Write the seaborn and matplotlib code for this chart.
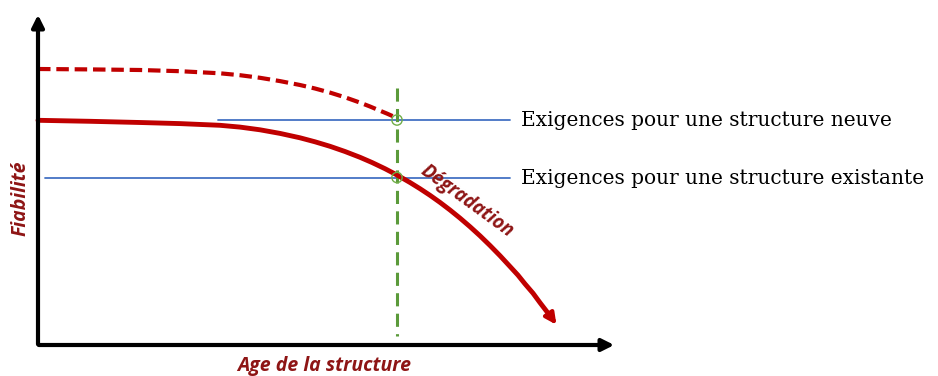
import seaborn as sns
import matplotlib.pyplot as plt
import pandas as pd

# curve points (pixel-like units, y grows downward)
age_solid = [38, 90, 140, 180, 220, 240, 260, 280, 300, 315, 330, 345, 360, 372, 385, 397,
             410, 420, 430, 440, 450, 460, 470, 480, 490, 500, 510, 518, 525, 533, 540, 546, 551]
fiab_solid = [120.3, 121.3, 122.5, 123.6, 125.3, 127.1, 129.8, 133.4, 137.8, 141.8, 146.3, 151.5, 157.3, 162.5, 168.7, 175,
              182.5, 188.7, 195.3, 202.4, 210, 218.1, 226.7, 235.8, 245.5, 255.7, 266.5, 275.2, 283.9, 293.2, 302.7, 310.5, 317]
age_dashed = [38, 90, 140, 180, 220, 240, 260, 280, 300, 315, 330, 345, 360, 370, 380, 387, 394]
fiab_dashed = [69, 69.4, 70, 71.2, 73.3, 75.2, 77.8, 81.1, 85, 88.5, 92.6, 97.3, 102.6, 106.5, 110.7, 113.6, 116.7]

req_labels = ['Exigences pour une structure neuve', 'Exigences pour une structure existante']
req_levels = [120, 177.5]
req_start = [218, 45]
req_end = 510
t_inspect = 397

sns.set_style('white')
dark_red = '#8E1515'
red = '#C00000'

fig = plt.figure(figsize=(9.38, 3.76), dpi=100)
ax = fig.add_axes([0, 0, 1, 1])
ax.set_xlim(0, 938)
ax.set_ylim(376, 0)
ax.axis('off')

# axes with arrows
ax.annotate('', xy=(617, 345), xytext=(36, 345),
            arrowprops=dict(arrowstyle='-|>', color='black', lw=3, mutation_scale=18))
ax.annotate('', xy=(38, 12), xytext=(38, 347),
            arrowprops=dict(arrowstyle='-|>', color='black', lw=3, mutation_scale=18))

# requirement lines
for lvl, x0, lab in zip(req_levels, req_start, req_labels):
    ax.plot([x0, req_end], [lvl, lvl], color='#4472C4', lw=1.3)
    ax.text(req_end + 11, lvl + 1, lab, fontsize=14.5, family='DejaVu Serif',
            va='center', ha='left', color='black')

# inspection time
ax.plot([t_inspect, t_inspect], [88, 336], color='#5B9A3A', lw=2.2, ls=(0, (4.3, 2.4)))

df_solid = pd.DataFrame({'age': age_solid, 'fiab': fiab_solid})
df_dashed = pd.DataFrame({'age': age_dashed, 'fiab': fiab_dashed})
sns.lineplot(data=df_dashed, x='age', y='fiab', ax=ax, sort=False, estimator=None,
             color=red, lw=3, ls=(0, (3, 1.4)))
sns.lineplot(data=df_solid, x='age', y='fiab', ax=ax, sort=False, estimator=None,
             color=red, lw=3.5)
ax.annotate('', xy=(558, 327), xytext=(age_solid[-1], fiab_solid[-1]),
            arrowprops=dict(arrowstyle='-|>', color=red, lw=3, mutation_scale=16))

for lvl in req_levels:
    ax.scatter([t_inspect], [lvl], s=55, facecolors='none', edgecolors='#70AD47',
               lw=1, zorder=5)

ax.text(467, 201, 'Dégradation', rotation=-36, fontsize=13.5, family='Open Sans',
        fontweight='bold', fontstyle='italic', color=dark_red,
        ha='center', va='center', rotation_mode='anchor')
ax.text(21, 198, 'Fiabilité', rotation=90, fontsize=14, family='Open Sans',
        fontweight='bold', fontstyle='italic', color=dark_red, ha='center', va='center')
ax.text(324, 366, 'Age de la structure', fontsize=14, family='Open Sans',
        fontweight='bold', fontstyle='italic', color=dark_red, ha='center', va='center')

ax.set_xlabel('')
ax.set_ylabel('')
plt.savefig('out.png', dpi=100)
plt.close()
